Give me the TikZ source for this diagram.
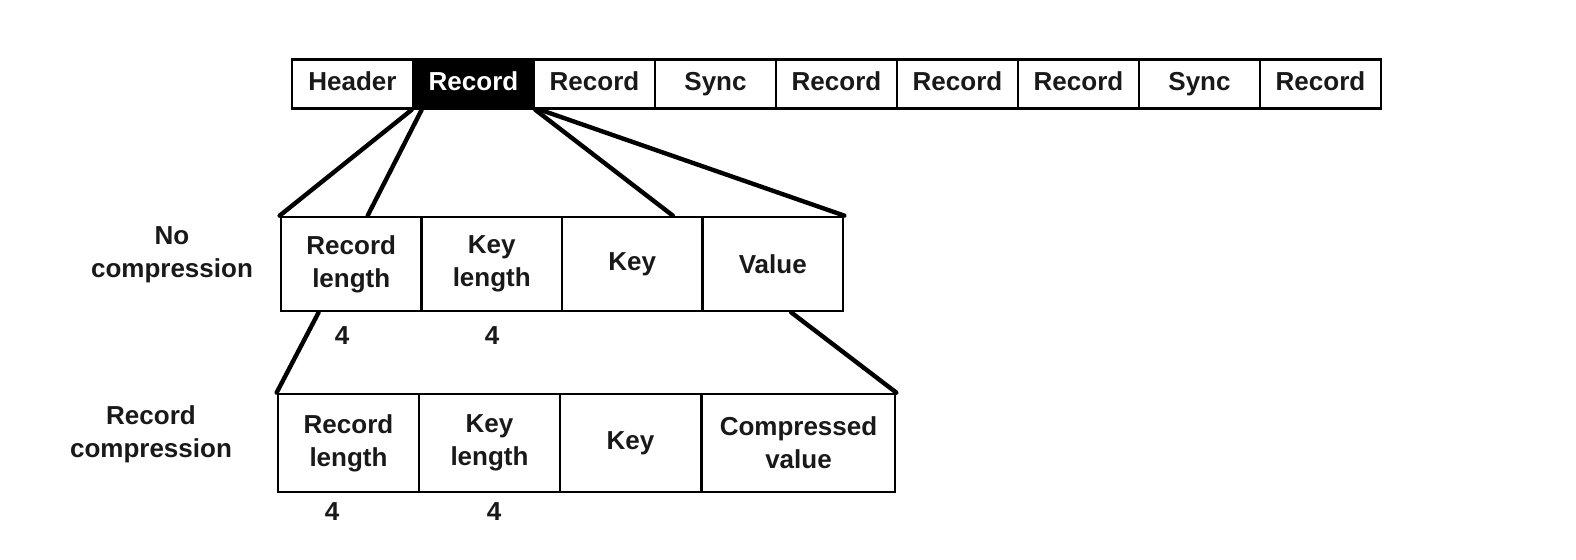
\documentclass[tikz,border=0pt]{standalone}
\usepackage{fontspec}
\setmainfont{Liberation Sans}
\usepackage{tikz}

\begin{document}
\begin{tikzpicture}[x=0.5pt,y=-0.5pt,line width=1.35pt]
\tikzstyle{every node}=[font=\fontsize{13}{16.5}\selectfont\bfseries, text=black!90]
\tikzstyle{barcell}=[draw, rectangle, inner sep=0, minimum width=60.5pt, minimum height=24.5pt, text height=9.5pt, text depth=2.5pt]
\tikzstyle{fieldcell}=[draw, rectangle, inner sep=0, minimum width=70.25pt, minimum height=47pt, align=center]
\tikzstyle{zipcell}=[draw, rectangle, inner sep=0, minimum width=70.5pt, minimum height=49pt, align=center]
\tikzstyle{fan}=[line width=2.2pt, line cap=round]
\useasboundingbox[fill=white] (0,0) rectangle (1576,560);
% the file as a row of blocks
\node[barcell] (hdr) at (352.5, 84) {Header};
\node[barcell, fill=black, text=white] (rec1) at (473.5, 84) {Record};
\node[barcell] (rec2) at (594.5, 84) {Record};
\node[barcell] (sync1) at (715.5, 84) {Sync};
\node[barcell] (rec3) at (836.5, 84) {Record};
\node[barcell] (rec4) at (957.5, 84) {Record};
\node[barcell] (rec5) at (1078.5, 84) {Record};
\node[barcell] (sync2) at (1199.5, 84) {Sync};
\node[barcell] (rec6) at (1320.5, 84) {Record};
% one record, plain
\node[fieldcell] (nc1) at (351.25, 264) {Record\\length};
\node[fieldcell] (nc2) at (491.75, 264) {Key\\length};
\node[fieldcell] (nc3) at (632.25, 264) {Key};
\node[fieldcell] (nc4) at (772.75, 264) {Value};
\node (nclab) at (172, 255) [align=center] {No\\compression};
\node (ncn1) at (342, 336) {4};
\node (ncn2) at (492, 336) {4};
% one record, value compressed
\node[zipcell] (bc1) at (348.5, 443) {Record\\length};
\node[zipcell] (bc2) at (489.5, 443) {Key\\length};
\node[zipcell] (bc3) at (630.5, 443) {Key};
\node[zipcell, minimum width=96.5pt] (bc4) at (798.5, 443) {Compressed\\value};
\node (bclab) at (151, 434) [align=center] {Record\\compression};
\node (bcn1) at (332, 512) {4};
\node (bcn2) at (494, 512) {4};
% blow-up lines
\draw[fan] (rec1.south west) -- (nc1.north west);
\draw[fan] ([xshift=5pt]rec1.south west) -- ([xshift=44pt]nc1.north west);
\draw[fan] (rec1.south east) -- ([xshift=-15.5pt]nc3.north east);
\draw[fan] ([xshift=2.5pt]rec1.south east) -- (nc4.north east);
\draw[fan] ([xshift=19.5pt]nc1.south west) -- (bc1.north west);
\draw[fan] ([xshift=45pt]nc4.south west) -- (bc4.north east);
\end{tikzpicture}
\end{document}
